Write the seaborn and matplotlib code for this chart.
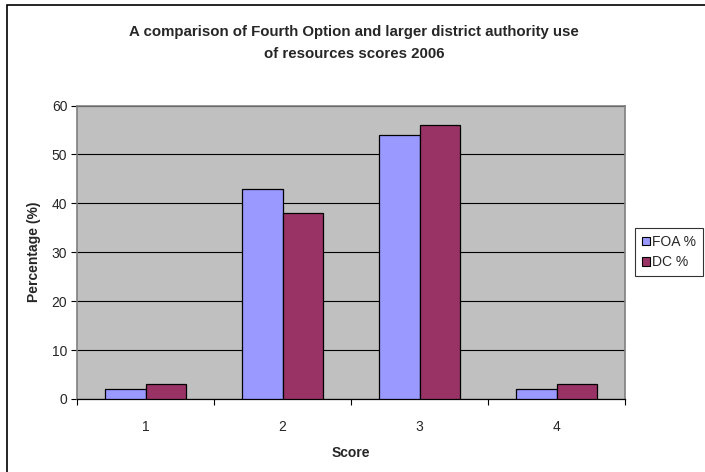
import matplotlib
matplotlib.use("Agg")
import matplotlib.pyplot as plt
import matplotlib.patches as mpatches
from matplotlib.ticker import FixedLocator, MultipleLocator
import seaborn as sns
import pandas as pd

# Score distribution, 2006
scores = ["1", "2", "3", "4"]
foa_pct = [2, 43, 54, 2]
dc_pct = [3, 38, 56, 3]
series_names = ["FOA %", "DC %"]
colors = ["#9999FF", "#993366"]

df = pd.DataFrame({
    "Score": scores * 2,
    "Percentage": foa_pct + dc_pct,
    "Series": [series_names[0]] * 4 + [series_names[1]] * 4,
})

sns.set_theme(style="white")
plt.rcParams["font.family"] = ["Liberation Sans", "DejaVu Sans"]

fig = plt.figure(figsize=(7.05, 4.72), dpi=100)
ax = fig.add_axes([77 / 705, 1 - 399 / 472, 548 / 705, 293.5 / 472])

sns.barplot(data=df, x="Score", y="Percentage", hue="Series",
            palette=colors, width=0.584, edgecolor="black", linewidth=0.9,
            saturation=1, ax=ax, legend=False, zorder=3)

ax.set_facecolor("#C0C0C0")
ax.set_ylim(0, 60)
ax.set_xlim(-0.5, 3.5)
ax.yaxis.set_major_locator(MultipleLocator(10))
ax.grid(axis="y", color="black", linewidth=0.8, zorder=0)
ax.set_axisbelow(True)

# category boundary ticks below the axis
ax.xaxis.set_minor_locator(FixedLocator([-0.5, 0.5, 1.5, 2.5, 3.5]))
ax.tick_params(axis="x", which="major", length=0, pad=15, labelsize=10)
ax.tick_params(axis="x", which="minor", length=4, width=0.8, color="black",
               direction="out", bottom=True)
ax.tick_params(axis="y", which="major", length=4, width=0.8, color="black",
               direction="out", left=True, labelsize=10, pad=3)

for side in ["top", "right", "left"]:
    ax.spines[side].set_color("#808080")
    ax.spines[side].set_linewidth(1.2)
ax.spines["bottom"].set_color("black")
ax.spines["bottom"].set_linewidth(0.9)

ax.set_xlabel("Score", fontsize=10, fontweight="bold", labelpad=9)
ax.set_ylabel("Percentage (%)", fontsize=10, fontweight="bold", labelpad=8)

fig.text(0.502, 1 - 43 / 472,
         "A comparison of Fourth Option and larger district authority use\nof resources scores 2006",
         ha="center", va="center", fontsize=10.8, fontweight="bold",
         linespacing=1.8)

handles = [mpatches.Patch(facecolor=c, edgecolor="black", linewidth=0.8, label=n)
           for c, n in zip(colors, series_names)]
leg = fig.legend(handles=handles, loc="upper left",
                 bbox_to_anchor=(635 / 705, 1 - 228 / 472),
                 fontsize=10, frameon=True, fancybox=False,
                 handlelength=0.6, handleheight=0.6, handletextpad=0.15,
                 borderpad=0.5, labelspacing=0.45, borderaxespad=0)
leg.get_frame().set_edgecolor("black")
leg.get_frame().set_linewidth(0.8)

# outer chart border
fig.patches.append(mpatches.Rectangle((6.5 / 705, -0.05), 1.2, 1 - 4.5 / 472 + 0.05,
                                      transform=fig.transFigure, fill=False,
                                      edgecolor="black", linewidth=1.2))

fig.savefig("out.png", dpi=100)
